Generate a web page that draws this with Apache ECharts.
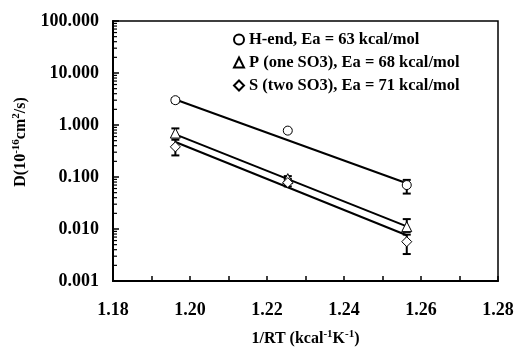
<!DOCTYPE html>
<html>
<head>
<meta charset="utf-8">
<script src="https://cdn.jsdelivr.net/npm/echarts@6/dist/echarts.min.js"></script>
<style>
  html, body { margin: 0; padding: 0; background: #fff; }
  #chart { width: 516px; height: 347px; }
</style>
</head>
<body>
<div id="chart"></div>
<script>
// measured points (x = 1/RT)
const xVals = [1.1962, 1.2254, 1.2563];

const hEnd = [3.0, 0.78, 0.070];
const hLow = [2.7, 0.72, 0.048];
const hHigh = [3.3, 0.84, 0.088];

const pOne = [0.70, 0.093, 0.0111];
const pLow = [0.58, 0.080, 0.0088];
const pHigh = [0.86, 0.104, 0.0155];

const sTwo = [0.38, 0.078, 0.0057];
const sLow = [0.26, 0.066, 0.0033];
const sHigh = [0.52, 0.092, 0.0078];

// fitted Arrhenius lines, end points
const fitX = [1.1962, 1.2563];
const hFit = [3.1, 0.076];
const pFit = [0.66, 0.0112];
const sFit = [0.47, 0.0076];

const seriesNames = [
  "H-end, Ea = 63 kcal/mol",
  "P (one SO3), Ea = 68 kcal/mol",
  "S (two SO3), Ea = 71 kcal/mol"
];

const yTickLabels = ["0.001", "0.010", "0.100", "1.000", "10.000", "100.000"];

const font = "Liberation Serif";

// log minor ticks 2..9 in every decade
const minorTicks = [];
for (let k = -3; k < 2; k++) {
  for (let m = 2; m <= 9; m++) minorTicks.push([1.18, m * Math.pow(10, k)]);
}

function pairs(xs, ys) {
  return xs.map((x, i) => [x, ys[i]]);
}

function errorBars(lo, hi) {
  return {
    type: "custom",
    silent: true,
    z: 3,
    data: xVals.map((x, i) => [x, lo[i], hi[i]]),
    renderItem(params, api) {
      const top = api.coord([api.value(0), api.value(2)]);
      const bot = api.coord([api.value(0), api.value(1)]);
      const w = 4;
      const style = { stroke: "#000", lineWidth: 2 };
      return {
        type: "group",
        children: [
          { type: "line", shape: { x1: top[0], y1: top[1], x2: bot[0], y2: bot[1] }, style },
          { type: "line", shape: { x1: top[0] - w, y1: top[1], x2: top[0] + w, y2: top[1] }, style },
          { type: "line", shape: { x1: bot[0] - w, y1: bot[1], x2: bot[0] + w, y2: bot[1] }, style }
        ]
      };
    }
  };
}

function fitLine(ys) {
  return {
    type: "line",
    silent: true,
    data: pairs(fitX, ys),
    symbol: "none",
    lineStyle: { color: "#000", width: 2 },
    z: 2
  };
}

function points(name, ys, symbol, size) {
  return {
    name,
    type: "scatter",
    data: pairs(xVals, ys),
    symbol,
    symbolSize: size,
    itemStyle: { color: "#fff", borderColor: "#000", borderWidth: 1, opacity: 1 },
    z: 4
  };
}

const rich = {
  n: { fontFamily: font, fontWeight: "bold", fontSize: 16, color: "#000", lineHeight: 20 },
  s: { fontFamily: font, fontWeight: "bold", fontSize: 11, color: "#000", verticalAlign: "top", lineHeight: 20, padding: [0, 0, 7, 0] }
};

const chart = echarts.init(document.getElementById("chart"), null, { renderer: "canvas" });

chart.setOption({
  animation: false,
  backgroundColor: "#fff",
  textStyle: { fontFamily: font },
  grid: {
    left: 113,
    right: 18,
    top: 21,
    bottom: 66,
    outerBoundsMode: "none",
    containLabel: false,
    show: true,
    borderColor: "#000",
    borderWidth: 1.5
  },
  legend: {
    orient: "vertical",
    left: 228,
    top: 26,
    itemGap: 6,
    itemWidth: 10,
    itemHeight: 10,
    data: seriesNames,
    textStyle: { fontFamily: font, fontWeight: "bold", fontSize: 16.5, color: "#000", padding: [0, 0, 0, 0] }
  },
  xAxis: {
    type: "value",
    min: 1.18,
    max: 1.28,
    interval: 0.01,
    splitLine: { show: false },
    axisLine: { lineStyle: { color: "#000", width: 2 } },
    axisTick: { inside: true, length: 5, lineStyle: { color: "#000", width: 1.5 } },
    axisLabel: {
      color: "#000",
      fontFamily: font,
      fontWeight: "bold",
      fontSize: 18,
      margin: 20,
      formatter: v => (Math.round(v * 100) % 2 === 0 ? v.toFixed(2) : "")
    },
    name: "{n|1/RT (kcal}{s|-1}{n|K}{s|-1}{n|)}",
    nameLocation: "middle",
    nameGap: 48,
    nameTextStyle: { rich }
  },
  yAxis: {
    type: "log",
    logBase: 10,
    min: 0.001,
    max: 100,
    splitLine: { show: false },
    axisLine: { lineStyle: { color: "#000", width: 2 } },
    axisTick: { inside: true, length: 6, lineStyle: { color: "#000", width: 1.5 } },
    axisLabel: {
      color: "#000",
      fontFamily: font,
      fontWeight: "bold",
      fontSize: 18,
      margin: 14,
      formatter: v => yTickLabels[Math.round(Math.log10(v)) + 3]
    },
    name: "{n|D(10}{s|-16}{n|cm}{s|2}{n|/s)}",
    nameLocation: "middle",
    nameGap: 82,
    nameRotate: 90,
    nameTextStyle: { padding: [0, 0, 0, 18], rich }
  },
  series: [
    {
      type: "custom",
      silent: true,
      data: minorTicks,
      renderItem(params, api) {
        const p = api.coord([api.value(0), api.value(1)]);
        return {
          type: "line",
          shape: { x1: p[0], y1: p[1], x2: p[0] + 4, y2: p[1] },
          style: { stroke: "#000", lineWidth: 1.2 }
        };
      }
    },
    fitLine(hFit),
    fitLine(pFit),
    fitLine(sFit),
    errorBars(hLow, hHigh),
    errorBars(pLow, pHigh),
    errorBars(sLow, sHigh),
    points(seriesNames[0], hEnd, "circle", 9),
    points(seriesNames[1], pOne, "triangle", 10),
    points(seriesNames[2], sTwo, "diamond", 10)
  ]
});
</script>
</body>
</html>
